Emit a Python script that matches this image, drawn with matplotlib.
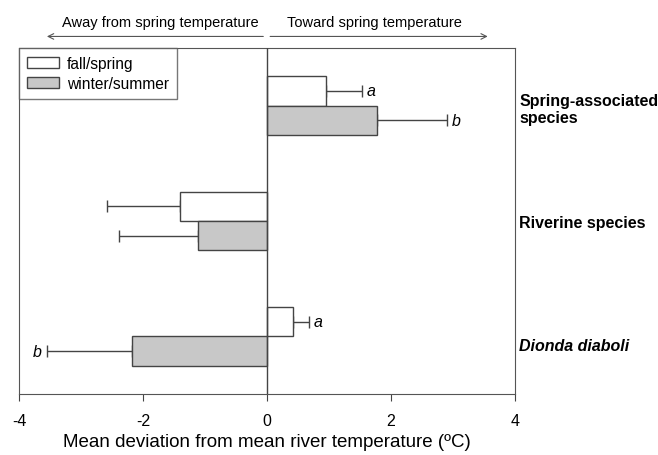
import matplotlib
matplotlib.use("Agg")
import matplotlib.pyplot as plt
import numpy as np

plt.rcParams['font.family'] = ['Liberation Sans', 'DejaVu Sans']

# groups from top to bottom
groups = ["Spring-associated\nspecies", "Riverine species", "Dionda diaboli"]
fall_mean = [0.95, -1.40, 0.42]
fall_err = [0.58, 1.18, 0.26]
winter_mean = [1.78, -1.11, -2.18]
winter_err = [1.12, 1.28, 1.37]
fall_letters = ["a", "", "a"]
winter_letters = ["b", "", "b"]

edge = "#444444"
grey = "#c8c8c8"
h = 0.255

fig = plt.figure(figsize=(6.58, 4.56), dpi=100)
ax = fig.add_axes([0.0289, 0.1338, 0.7538, 0.7588])

ypos = np.array([2.5, 1.5, 0.5])

def one_sided(means, errs):
    lo = [e if m < 0 else 0 for m, e in zip(means, errs)]
    hi = [e if m >= 0 else 0 for m, e in zip(means, errs)]
    return [lo, hi]

ax.barh(ypos + h / 2, fall_mean, height=h, color="white", edgecolor=edge,
        linewidth=1, label="fall/spring", zorder=2)
ax.barh(ypos - h / 2, winter_mean, height=h, color=grey, edgecolor=edge,
        linewidth=1, label="winter/summer", zorder=2)
ax.errorbar(fall_mean, ypos + h / 2, xerr=one_sided(fall_mean, fall_err),
            fmt="none", ecolor=edge, elinewidth=1, capsize=4, zorder=1)
ax.errorbar(winter_mean, ypos - h / 2, xerr=one_sided(winter_mean, winter_err),
            fmt="none", ecolor=edge, elinewidth=1, capsize=4, zorder=1)

# significance letters
for means, errs, letters, off in [(fall_mean, fall_err, fall_letters, h / 2),
                                  (winter_mean, winter_err, winter_letters, -h / 2)]:
    for m, e, l, y in zip(means, errs, letters, ypos):
        if not l:
            continue
        if m >= 0:
            ax.text(m + e + 0.08, y + off, l, style="italic", fontsize=11.5,
                    va="center", ha="left")
        else:
            ax.text(m - e - 0.08, y + off, l, style="italic", fontsize=11.5,
                    va="center", ha="right")

ax.axvline(0, color=edge, linewidth=1, zorder=3)

ax.set_xlim(-4, 4)
ax.set_ylim(0, 3)
ax.set_xticks([-4, -2, 0, 2, 4])
ax.set_xticklabels(["-4", "-2", "0", "2", "4"])
ax.set_yticks([])
ax.tick_params(axis="x", labelsize=11.5, length=5, color=edge, pad=9)
for s in ax.spines.values():
    s.set_color("#555555")
ax.set_xlabel("Mean deviation from mean river temperature (ºC)", fontsize=13.5,
              labelpad=3)

# group labels on the right
label_off = [-0.03, -0.01, -0.08]
for g, y, o in zip(groups, ypos, label_off):
    if g == "Dionda diaboli":
        ax.text(4.07, y + o, g, fontweight="bold", style="italic",
                fontsize=11.5, va="center", ha="left")
    else:
        ax.text(4.07, y + o, g, fontweight="bold", fontsize=11.5,
                va="center", ha="left", linespacing=1.15)

leg = ax.legend(loc="upper left", fontsize=11.2, frameon=True, fancybox=False,
                borderaxespad=0, handlelength=2.1, handleheight=0.75,
                handletextpad=0.5, borderpad=0.5, labelspacing=0.35)
leg.get_frame().set_edgecolor("#555555")
leg.get_frame().set_linewidth(1)

# direction arrows above the plot
ay = 3.10
ax.annotate("", xy=(-3.55, ay), xytext=(-0.06, ay), xycoords="data",
            arrowprops=dict(arrowstyle="->", color="#555555", lw=0.8,
                            shrinkA=0, shrinkB=0), annotation_clip=False)
ax.annotate("", xy=(3.56, ay), xytext=(0.05, ay), xycoords="data",
            arrowprops=dict(arrowstyle="->", color="#555555", lw=0.8,
                            shrinkA=0, shrinkB=0), annotation_clip=False)
ax.text(-1.72, 3.225, "Away from spring temperature", fontsize=10.5,
        ha="center", va="center")
ax.text(1.73, 3.225, "Toward spring temperature", fontsize=10.5,
        ha="center", va="center")

fig.savefig("out.png", dpi=100)
